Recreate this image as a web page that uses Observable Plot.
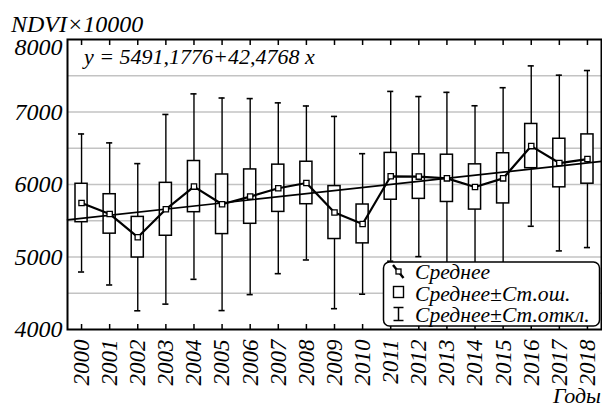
<!DOCTYPE html>
<html><head><meta charset="utf-8">
<script src="https://cdn.jsdelivr.net/npm/d3@7"></script>
<script src="https://cdn.jsdelivr.net/npm/@observablehq/plot@0.6"></script>
<style>
html,body{margin:0;padding:0;background:#fff}
#chart svg{display:block}
#chart svg text{font-family:"Liberation Serif",serif !important;font-style:italic}
</style>
</head><body><div id="chart"></div>
<script>
const years = [2000,2001,2002,2003,2004,2005,2006,2007,2008,2009,2010,2011,2012,2013,2014,2015,2016,2017,2018];
const means = [5745,5594,5273,5658,5971,5727,5833,5948,6021,5613,5456,6113,6109,6085,5966,6085,6530,6296,6351];
const stdErr = [265,272,280,365,353,411,375,326,293,365,268,323,307,326,312,346,305,335,340];
const stdDev = [952,980,1015,1308,1279,1466,1352,1178,1062,1326,969,1171,1104,1186,1120,1250,1106,1212,1221];
const trendIntercept = 5491.1776;
const trendSlope = 42.4768;
const trendOrigin = 1999;
const yTickLabels = [4000,5000,6000,7000];
const yTopLabel = [8000];
const gridValues = [4500,5000,5500,6000,6500,7000,7500];
const yTitle = "NDVI×10000";
const xTitle = "Годы";
const equationText = "y = 5491,1776+42,4768 x";
const legendLabels = ["Среднее","Среднее±Ст.ош.","Среднее±Ст.откл."];

const data = years.map((year,i)=>({year, mean: means[i], se: stdErr[i], sd: stdDev[i]}));
const xDomain = [years[0]-0.5, years[years.length-1]+0.5];
const trendData = xDomain.map(x => ({x, y: trendIntercept + trendSlope*(x - trendOrigin)}));
const FONT = "Liberation Serif, serif";

const plot = Plot.plot({
  width: 602, height: 408,
  marginLeft: 67, marginRight: 1, marginTop: 39, marginBottom: 79,
  style: {fontFamily: FONT, fontStyle: "italic", fontSize: "24px", background: "white", color: "black", overflow: "visible"},
  x: {domain: xDomain, label: null},
  y: {domain: [4000, 8000], label: null},
  marks: [
    Plot.gridY(gridValues, {stroke: "#c3c3c3", strokeOpacity: 1, strokeWidth: 1.5}),
    Plot.ruleX(data, {x: "year", y1: d => d.mean - d.sd, y2: d => d.mean + d.sd, stroke: "black", strokeWidth: 1.4}),
    Plot.ruleY(data, {y: d => d.mean + d.sd, x1: d => d.year - 0.5, x2: d => d.year + 0.5, insetLeft: 11, insetRight: 11, stroke: "black", strokeWidth: 1.6}),
    Plot.ruleY(data, {y: d => d.mean - d.sd, x1: d => d.year - 0.5, x2: d => d.year + 0.5, insetLeft: 11, insetRight: 11, stroke: "black", strokeWidth: 1.6}),
    Plot.rect(data, {x1: d => d.year - 0.5, x2: d => d.year + 0.5, y1: d => d.mean - d.se, y2: d => d.mean + d.se, insetLeft: 8, insetRight: 8, fill: "white", stroke: "black", strokeWidth: 1.5}),
    Plot.line(trendData, {x: "x", y: "y", stroke: "black", strokeWidth: 1.6}),
    Plot.line(data, {x: "year", y: "mean", stroke: "black", strokeWidth: 2.2}),
    Plot.dot(data, {x: "year", y: "mean", symbol: "square", r: 3, fill: "white", stroke: "black", strokeWidth: 1.3}),
    Plot.frame({stroke: "black", strokeWidth: 2}),
    Plot.axisX(years, {anchor: "bottom", tickSize: -5, strokeWidth: 1.5, tickFormat: () => ""}),
    Plot.axisX(years, {anchor: "top", tickSize: -5, strokeWidth: 1.5, tickFormat: () => ""}),
    Plot.axisX(years, {anchor: "bottom", tickSize: 0, tickPadding: 10, tickRotate: -90, tickFormat: d => String(d), fontSize: 23}),
    Plot.axisY(yTickLabels, {anchor: "left", tickSize: 0, tickPadding: 5, tickFormat: d => String(d), fontSize: 24}),
    Plot.axisY(yTopLabel, {anchor: "left", tickSize: 0, tickPadding: 5, dy: 8, tickFormat: d => String(d), fontSize: 24})
  ]
});
document.getElementById("chart").appendChild(plot);

const svg = d3.select(plot);
const ann = svg.append("g").attr("font-family", FONT).attr("font-style", "italic").attr("fill", "black").attr("text-anchor", "start");
ann.append("text").attr("x", 11).attr("y", 31.5).attr("font-size", 24).text(yTitle);
ann.append("text").attr("x", 601).attr("y", 403).attr("text-anchor", "end").attr("font-size", 22).text(xTitle);
ann.append("text").attr("x", 84).attr("y", 63.5).attr("font-size", 22).text(equationText);

const lg = svg.append("g");
lg.append("rect").attr("x", 383.5).attr("y", 262).attr("width", 216).attr("height", 64).attr("rx", 6)
  .attr("fill", "white").attr("stroke", "black").attr("stroke-width", 1.5);
lg.append("line").attr("x1", 393).attr("y1", 265).attr("x2", 403.5).attr("y2", 278).attr("stroke", "black").attr("stroke-width", 2.4);
lg.append("rect").attr("x", 396).attr("y", 269).attr("width", 5).attr("height", 5).attr("fill", "white").attr("stroke", "black").attr("stroke-width", 1.3);
lg.append("rect").attr("x", 393.5).attr("y", 286.5).attr("width", 10).attr("height", 11).attr("fill", "white").attr("stroke", "black").attr("stroke-width", 1.4);
lg.append("line").attr("x1", 398.5).attr("y1", 307.5).attr("x2", 398.5).attr("y2", 320.5).attr("stroke", "black").attr("stroke-width", 1.5);
lg.append("line").attr("x1", 393.5).attr("y1", 307.5).attr("x2", 403.5).attr("y2", 307.5).attr("stroke", "black").attr("stroke-width", 1.5);
lg.append("line").attr("x1", 393.5).attr("y1", 320.5).attr("x2", 403.5).attr("y2", 320.5).attr("stroke", "black").attr("stroke-width", 1.5);
const lgText = lg.append("g").attr("font-family", FONT).attr("font-style", "italic").attr("font-size", 21.6).attr("fill", "black").attr("text-anchor", "start");
[279, 300.5, 321.5].forEach((yy, i) => lgText.append("text").attr("x", 415).attr("y", yy).text(legendLabels[i]));
</script></body></html>
